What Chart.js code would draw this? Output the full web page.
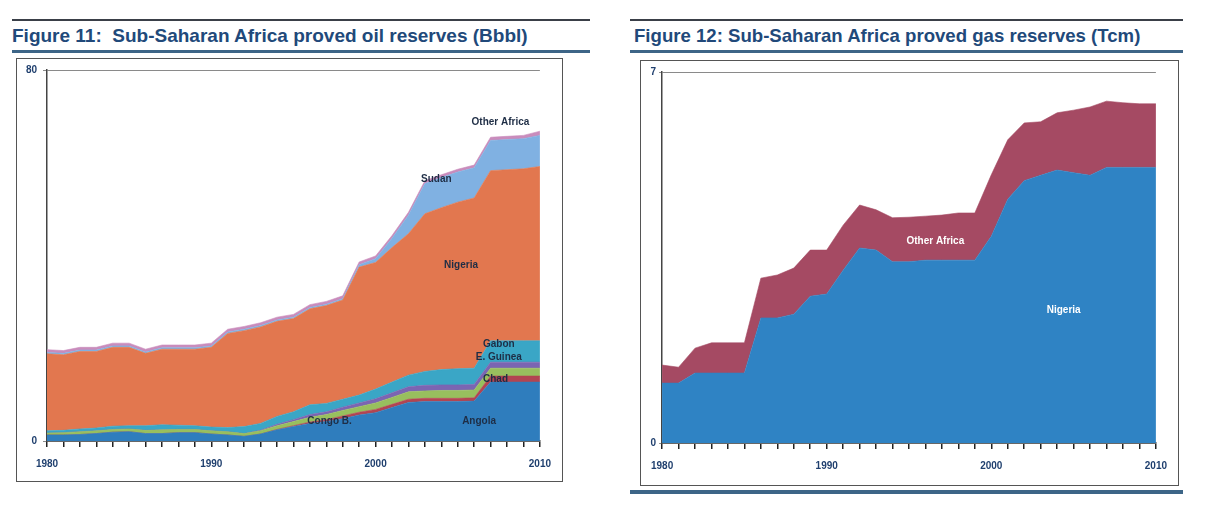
<!DOCTYPE html>
<html>
<head>
<meta charset="utf-8">
<script src="https://cdn.jsdelivr.net/npm/chart.js@4.4.1/dist/chart.umd.min.js"></script>
<style>
  html, body { margin: 0; padding: 0; background: #ffffff; }
  body { width: 1213px; height: 516px; position: relative; overflow: hidden; font-family: "Liberation Sans", Arial, sans-serif; }
  .rule { position: absolute; }
  .title { position: absolute; font-weight: bold; color: #21497a; white-space: nowrap; }
  .frame { position: absolute; border: 1px solid #555; box-sizing: border-box; }
  .cv { position: absolute; }
</style>
</head>
<body>
<div class="rule" style="left:12px;top:19px;width:578px;height:2px;background:#3a3f48"></div>
<div class="title" id="t1" style="left:12px;top:25px;font-size:19px;">Figure 11:&nbsp; Sub-Saharan Africa proved oil reserves (Bbbl)</div>
<div class="rule" style="left:12px;top:50px;width:578px;height:3px;background:#3d6587"></div>
<div class="frame" style="left:16px;top:58px;width:547px;height:424px"></div>

<div class="rule" style="left:630px;top:19px;width:553px;height:2px;background:#3a3f48"></div>
<div class="title" id="t2" style="left:634px;top:25px;font-size:18.6px;">Figure 12: Sub-Saharan Africa proved gas reserves (Tcm)</div>
<div class="rule" style="left:630px;top:50px;width:553px;height:3px;background:#3d6587"></div>
<div class="frame" style="left:640px;top:60px;width:539px;height:426px"></div>
<div class="rule" style="left:630px;top:490px;width:553px;height:4px;background:#3d6587"></div>

<canvas class="cv" id="oil" width="546" height="424" style="left:16px;top:58px"></canvas>
<canvas class="cv" id="gas" width="538" height="425" style="left:640px;top:60px"></canvas>

<script>
// ---------- Data ----------
const years = [1980,1981,1982,1983,1984,1985,1986,1987,1988,1989,1990,1991,1992,1993,1994,1995,1996,1997,1998,1999,2000,2001,2002,2003,2004,2005,2006,2007,2008,2009,2010];
const xTickYears = [1980, 1990, 2000, 2010];

// Figure 11: oil reserves, Bbbl (stacked, bottom to top)
const oilAngola   = [1.3,1.3,1.4,1.6,1.9,2.0,1.6,1.6,1.8,1.8,1.5,1.3,1.0,1.5,2.4,3.1,3.8,4.2,4.8,5.6,6.1,7.2,8.3,8.5,8.5,8.5,8.6,12.7,12.7,12.7,12.7];
const oilChad     = [0,0,0,0,0,0,0,0,0,0,0,0,0,0,0.1,0.2,0.3,0.4,0.6,0.6,0.7,0.7,0.7,0.7,0.7,0.7,0.7,1.3,1.3,1.3,1.3];
const oilCongo    = [0.4,0.5,0.6,0.6,0.6,0.6,0.7,0.8,0.7,0.7,0.7,0.7,0.6,0.7,0.8,0.9,1.0,1.1,1.2,1.2,1.4,1.5,1.6,1.6,1.7,1.7,1.7,1.7,1.7,1.7,1.7];
const oilEqGuinea = [0,0,0,0,0,0,0,0,0,0,0,0,0,0.1,0.3,0.4,0.6,0.6,0.7,0.8,0.9,1.0,1.1,1.2,1.2,1.2,1.2,1.3,1.3,1.3,1.3];
const oilGabon    = [0.5,0.5,0.6,0.6,0.7,0.7,1.0,1.1,0.9,0.8,0.8,0.9,1.5,1.5,1.7,1.7,2.1,1.8,1.7,1.7,2.1,2.3,2.5,3.0,3.3,3.5,3.5,4.6,4.6,4.6,4.6];
const oilNigeria  = [16.6,16.3,16.7,16.5,17.0,16.9,15.6,16.3,16.4,16.5,17.2,20.3,20.7,20.8,20.5,20.1,20.7,21.1,21.4,27.6,27.3,29.0,30.5,34.0,34.9,35.9,36.7,36.7,36.9,37.1,37.6];
const oilSudan    = [0.3,0.3,0.3,0.3,0.3,0.3,0.3,0.3,0.3,0.3,0.3,0.3,0.3,0.3,0.3,0.3,0.3,0.3,0.3,0.5,0.8,2.0,4.0,6.5,6.5,6.5,6.5,6.5,6.5,6.5,6.7];
const oilOther    = [0.6,0.6,0.6,0.6,0.6,0.6,0.6,0.6,0.6,0.6,0.6,0.6,0.6,0.6,0.6,0.6,0.6,0.6,0.6,0.6,0.6,0.6,0.6,0.6,0.6,0.6,0.6,0.7,0.7,0.7,0.9];
const oilYTicks = [0, 80];

// Figure 12: gas reserves, Tcm (stacked)
const gasNigeria = [1.13,1.13,1.32,1.32,1.32,1.32,2.36,2.36,2.43,2.77,2.81,3.26,3.68,3.64,3.42,3.42,3.45,3.45,3.45,3.45,3.90,4.60,4.95,5.05,5.15,5.10,5.05,5.20,5.20,5.20,5.20];
const gasOther   = [0.34,0.30,0.47,0.57,0.57,0.57,0.75,0.81,0.87,0.87,0.83,0.85,0.81,0.76,0.83,0.84,0.83,0.85,0.89,0.89,1.16,1.12,1.09,1.01,1.08,1.18,1.29,1.25,1.22,1.20,1.20];
const gasYTicks = [0, 7];

// In-chart series labels: [text, year, value]
const oilLabels = [
  ["Other Africa", 2007.6, 68.8],
  ["Sudan", 2003.7, 56.5],
  ["Nigeria", 2005.2, 38.0],
  ["Gabon", 2007.5, 20.9],
  ["E. Guinea", 2007.5, 18.1],
  ["Chad", 2007.3, 13.4],
  ["Angola", 2006.3, 4.3],
  ["Congo B.", 1997.2, 4.3]
];
const gasLabels = [
  ["Other Africa", 1996.6, 3.81],
  ["Nigeria", 2004.4, 2.51]
];

// ---------- Rendering ----------
const NAVY = '#1f3f6e';
const labelFont = '"Liberation Sans Narrow", "Liberation Sans", Arial, sans-serif';

function seriesLabelPlugin(list, color) {
  return {
    id: 'seriesLabels',
    afterDatasetsDraw(chart) {
      const ctx = chart.ctx, xs = chart.scales.x, ys = chart.scales.y;
      ctx.save();
      ctx.font = 'bold 10px ' + labelFont;
      ctx.fillStyle = color;
      ctx.textAlign = 'center';
      ctx.textBaseline = 'middle';
      list.forEach(([t, yr, v]) => {
        ctx.fillText(t, xs.getPixelForValue(yr - years[0]), ys.getPixelForValue(v));
      });
      ctx.restore();
    }
  };
}

function areaSet(label, data, color, i) {
  return {
    label, data,
    backgroundColor: color,
    borderColor: color,
    borderWidth: 0.6,
    pointRadius: 0,
    tension: 0,
    fill: i === 0 ? 'origin' : '-1'
  };
}

function makeOptions(ymax, yAxisWidth, yTickLen, yTickPad, pad, yTicks) {
  return {
    responsive: false,
    animation: false,
    devicePixelRatio: 1,
    layout: { padding: pad },
    plugins: { legend: { display: false }, tooltip: { enabled: false } },
    scales: {
      x: {
        type: 'category',
        offset: false,
        afterFit: s => { s.height = 30; },
        grid: { display: true, drawOnChartArea: false, drawTicks: true, tickLength: 6, color: '#222', lineWidth: 1.5 },
        border: { display: true, color: '#444', width: 1.5 },
        ticks: {
          autoSkip: false, maxRotation: 0, minRotation: 0, padding: 11,
          color: NAVY, font: { family: labelFont, size: 10, weight: 'bold' },
          callback: (v, i) => xTickYears.includes(years[i]) ? String(years[i]) : ' '
        }
      },
      y: {
        stacked: true,
        min: 0, max: ymax,
        afterFit: s => { s.width = yAxisWidth; },
        afterBuildTicks: s => { s.ticks = yTicks.map(v => ({ value: v })); },
        grid: { display: true, drawOnChartArea: true, drawTicks: true, tickLength: yTickLen, color: '#8a8a8a', lineWidth: 1 },
        border: { display: true, color: '#444', width: 1.5 },
        ticks: { padding: yTickPad, color: NAVY, font: { family: labelFont, size: 10, weight: 'bold' } }
      }
    }
  };
}

new Chart(document.getElementById('oil'), {
  type: 'line',
  data: {
    labels: years,
    datasets: [
      areaSet('Angola', oilAngola, '#2f7dbd', 0),
      areaSet('Chad', oilChad, '#b24552', 1),
      areaSet('Congo B.', oilCongo, '#98bf5e', 2),
      areaSet('E. Guinea', oilEqGuinea, '#7b65b2', 3),
      areaSet('Gabon', oilGabon, '#3aa6c6', 4),
      areaSet('Nigeria', oilNigeria, '#e2774f', 5),
      areaSet('Sudan', oilSudan, '#80b1e2', 6),
      areaSet('Other Africa', oilOther, '#c98cbc', 7)
    ]
  },
  options: makeOptions(80, 31, 4, 6, { left: 0, right: 21, top: 10, bottom: 11 }, oilYTicks),
  plugins: [seriesLabelPlugin(oilLabels, '#1e2d45')]
});

new Chart(document.getElementById('gas'), {
  type: 'line',
  data: {
    labels: years,
    datasets: [
      areaSet('Nigeria', gasNigeria, '#2f83c4', 0),
      areaSet('Other Africa', gasOther, '#a54a63', 1)
    ]
  },
  options: makeOptions(7, 17, 3, 3, { left: 0, right: 20, top: 12, bottom: 12 }, gasYTicks),
  plugins: [seriesLabelPlugin(gasLabels, '#ffffff')]
});
</script>
</body>
</html>
